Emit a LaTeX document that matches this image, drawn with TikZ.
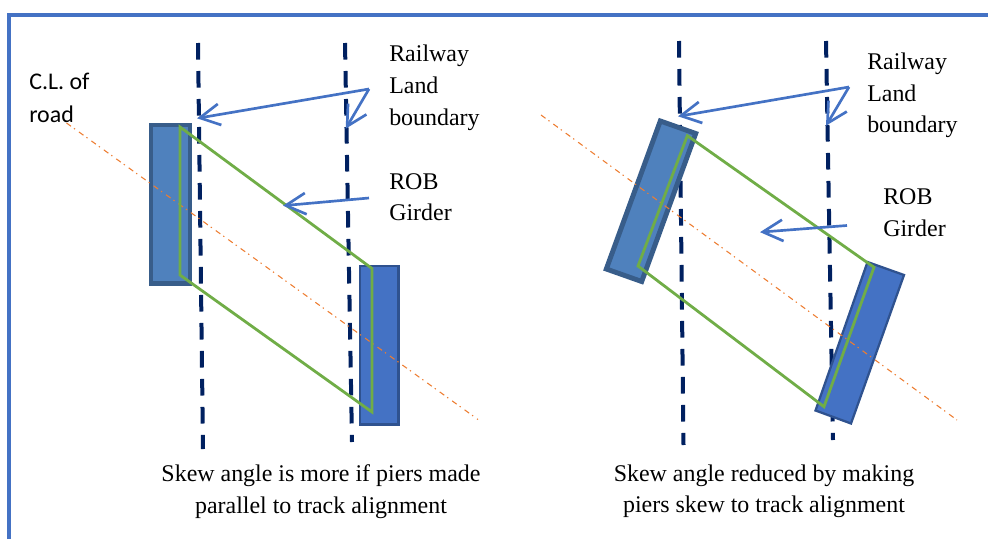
\documentclass[tikz,border=0pt]{standalone}
\usepackage{fontspec}
\setmainfont{Liberation Serif}
\newfontfamily\clfont{Carlito}
\usetikzlibrary{arrows.meta}
\definecolor{framec}{HTML}{4472C4}
\definecolor{navyc}{HTML}{002060}
\definecolor{greenc}{HTML}{70AD47}
\definecolor{orangec}{HTML}{ED7D31}
\definecolor{pierA}{HTML}{4F81BD}
\definecolor{pierAe}{HTML}{385D8A}
\definecolor{pierB}{HTML}{4472C4}
\definecolor{pierBe}{HTML}{2F528F}
\tikzset{
  x=0.75pt,y=-0.75pt,
  frameline/.style={draw=framec,line width=2.8pt},
  boundary/.style={draw=navyc,line width=3pt,dash pattern=on 12.4pt off 8.6pt},
  centre/.style={draw=orangec,line width=0.8pt,dash pattern=on 4.2pt off 2.7pt on 1pt off 3.6pt},
  girder/.style={draw=greenc,line width=2.1pt,line join=miter},
  pierdark/.style={fill=pierA,draw=pierAe,line width=3.7pt,line join=miter},
  pierblue/.style={fill=pierB,draw=pierBe,line width=1.7pt,line join=miter},
  pointer/.style={draw=framec,line width=2pt,shorten >=-1.5pt,-{Straight Barb[length=15pt,width=16pt,line width=2pt]}},
  lab/.style={anchor=base west,inner sep=0pt,font=\fontsize{17.95}{20}\selectfont},
  cllab/.style={anchor=base west,inner sep=0pt,font=\clfont\fontsize{17.95}{20}\selectfont},
  captext/.style={anchor=base,inner sep=0pt,font=\fontsize{17.95}{20}\selectfont}
}
\begin{document}
\begin{tikzpicture}
\useasboundingbox (0,0) rectangle (988,539);
% frame
\draw[frameline] (9,539) -- (9,15) -- (988,15);

% ---- left diagram
\coordinate (lb1a) at (198,43);  \coordinate (lb1b) at (203,449);
\coordinate (lb2a) at (345,43);  \coordinate (lb2b) at (352,442);
\draw[boundary] (lb1a) -- (lb1b);
\draw[boundary] (lb2a) -- (lb2b);
\draw[pierdark] (151,125) rectangle (190,283.5);
\draw[pierblue] (360,266) rectangle (398.5,424.5);
\coordinate (lcA) at (66.5,123); \coordinate (lcB) at (478,419.5);
\draw[centre] (lcA) -- (lcB);
\draw[girder] (180,127) -- (372,268.5) -- (372,412) -- (180,275) -- cycle;
\coordinate (lrl) at (369,89);
\coordinate (ltA) at (199,118);
\coordinate (ltB) at (346.7,127);
\coordinate (lrg) at (369,198);
\coordinate (ltC) at (285,205.5);
\draw[pointer] (lrl) -- (ltA);
\draw[pointer] (lrl) -- (ltB);
\draw[pointer] (lrg) -- (ltC);
\node[cllab] (clA) at (29,89) {C.L. of};
\node[cllab] (clB) at (29,122) {road};
\node[lab] (lrA) at (389,61) {Railway};
\node[lab] (lrB) at (389,93) {Land};
\node[lab] (lrC) at (389,125) {boundary};
\node[lab] (lgA) at (389,189) {ROB};
\node[lab] (lgB) at (389,220) {Girder};
\node[captext] (lcapA) at (321,481) {Skew angle is more if piers made};
\node[captext] (lcapB) at (321,513) {parallel to track alignment};

% ---- right diagram
\coordinate (rb1a) at (679,41);  \coordinate (rb1b) at (683.5,445);
\coordinate (rb2a) at (826,41);  \coordinate (rb2b) at (833,440);
\draw[boundary] (rb1a) -- (rb1b);
\draw[boundary] (rb2a) -- (rb2b);
\draw[pierdark] (660.3,121) -- (695.7,133.5) -- (641.7,281.5) -- (606.3,269) -- cycle;
\draw[pierblue] (867.5,262) -- (904,275) -- (851,423.5) -- (815.5,410.5) -- cycle;
\coordinate (rcA) at (541,115); \coordinate (rcB) at (957,420);
\draw[centre] (rcA) -- (rcB);
\draw[girder] (687.3,135.7) -- (874,267.3) -- (824,406.7) -- (638,266) -- cycle;
\coordinate (rrl) at (849,87);
\coordinate (rtA) at (680,116);
\coordinate (rtB) at (827,124);
\coordinate (rrg) at (847,225.5);
\coordinate (rtC) at (762,232);
\draw[pointer] (rrl) -- (rtA);
\draw[pointer] (rrl) -- (rtB);
\draw[pointer] (rrg) -- (rtC);
\node[lab] (rrA) at (867,69) {Railway};
\node[lab] (rrB) at (867,101) {Land};
\node[lab] (rrC) at (867,132) {boundary};
\node[lab] (rgA) at (883,204) {ROB};
\node[lab] (rgB) at (883,236) {Girder};
\node[captext] (rcapA) at (764,481) {Skew angle reduced by making};
\node[captext] (rcapB) at (764,512) {piers skew to track alignment};
\end{tikzpicture}
\end{document}
